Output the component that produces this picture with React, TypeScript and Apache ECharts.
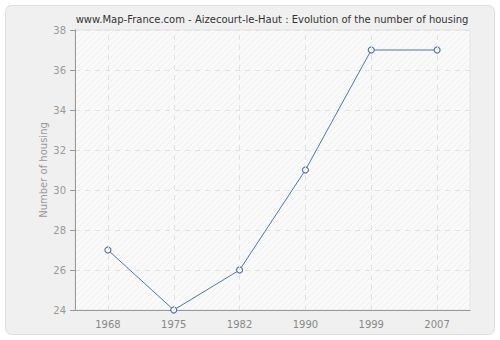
import React, { useEffect, useRef } from "react";
import * as echarts from "echarts";

const title = "www.Map-France.com - Aizecourt-le-Haut : Evolution of the number of housing";
const years = ["1968", "1975", "1982", "1990", "1999", "2007"];
const housing = [27, 24, 26, 31, 37, 37];
const yAxisName = "Number of housing";

function makeHatch(): any {
  const c = document.createElement("canvas");
  c.width = 6;
  c.height = 6;
  const g = c.getContext("2d")!;
  g.fillStyle = "#fafafa";
  g.fillRect(0, 0, 6, 6);
  g.strokeStyle = "#efefef";
  g.lineWidth = 1;
  g.beginPath();
  g.moveTo(-1, 7);
  g.lineTo(7, -1);
  g.moveTo(-1, 1);
  g.lineTo(1, -1);
  g.moveTo(5, 7);
  g.lineTo(7, 5);
  g.stroke();
  return { image: c, repeat: "repeat" };
}

export default function App() {
  const ref = useRef<HTMLDivElement>(null);
  useEffect(() => {
    document.body.style.margin = "0";
    const chart = echarts.init(ref.current!, null, { renderer: "svg" });
    chart.setOption({
      animation: false,
      backgroundColor: "#ffffff",
      graphic: [
        {
          type: "rect",
          z: -10,
          shape: { x: 5.5, y: 5.5, width: 489, height: 329, r: 6 },
          style: { fill: "#f0f0f0", stroke: "#dedede", lineWidth: 1 },
          silent: true,
        },
      ],
      title: {
        text: title,
        left: 267,
        textAlign: "center",
        top: 9,
        textStyle: { fontFamily: "DejaVu Sans", fontSize: 10, fontWeight: "normal", color: "#333" },
      },
      grid: {
        left: 75,
        right: 30,
        top: 30,
        bottom: 30,
        show: true,
        backgroundColor: makeHatch(),
        borderColor: "#e4e4e4",
        borderWidth: 1,
      },
      xAxis: {
        type: "category",
        data: years,
        boundaryGap: true,
        axisLine: { lineStyle: { color: "#999" } },
        axisTick: { alignWithLabel: true, length: 5, lineStyle: { color: "#999" } },
        axisLabel: { color: "#888", fontFamily: "DejaVu Sans", fontSize: 10, margin: 9 },
        splitLine: { show: false },
      },
      yAxis: {
        type: "value",
        min: 24,
        max: 38,
        interval: 2,
        name: yAxisName,
        nameLocation: "middle",
        nameGap: 27,
        nameMoveOverlap: false,
        nameTextStyle: { color: "#999", fontFamily: "DejaVu Sans", fontSize: 10 },
        axisLine: { show: true, lineStyle: { color: "#999" } },
        axisTick: { show: true, length: 5, lineStyle: { color: "#999" } },
        axisLabel: { color: "#999", fontFamily: "DejaVu Sans", fontSize: 10, margin: 9 },
        splitLine: { show: true, lineStyle: { color: "#e2e2e2", type: [5, 5] } },
      },
      series: [
        {
          type: "line",
          data: housing,
          symbol: "circle",
          symbolSize: 6,
          lineStyle: { color: "#4f79a8", width: 1 },
          itemStyle: { color: "#ffffff", borderColor: "#4f79a8", borderWidth: 1.2 },
          markLine: {
            silent: true,
            symbol: "none",
            label: { show: false },
            lineStyle: { color: "#e2e2e2", type: [5, 5], width: 1 },
            data: years.map((y) => ({ xAxis: y })),
          },
        },
      ],
    });
    return () => chart.dispose();
  }, []);
  return <div ref={ref} style={{ width: 500, height: 340 }} />;
}
